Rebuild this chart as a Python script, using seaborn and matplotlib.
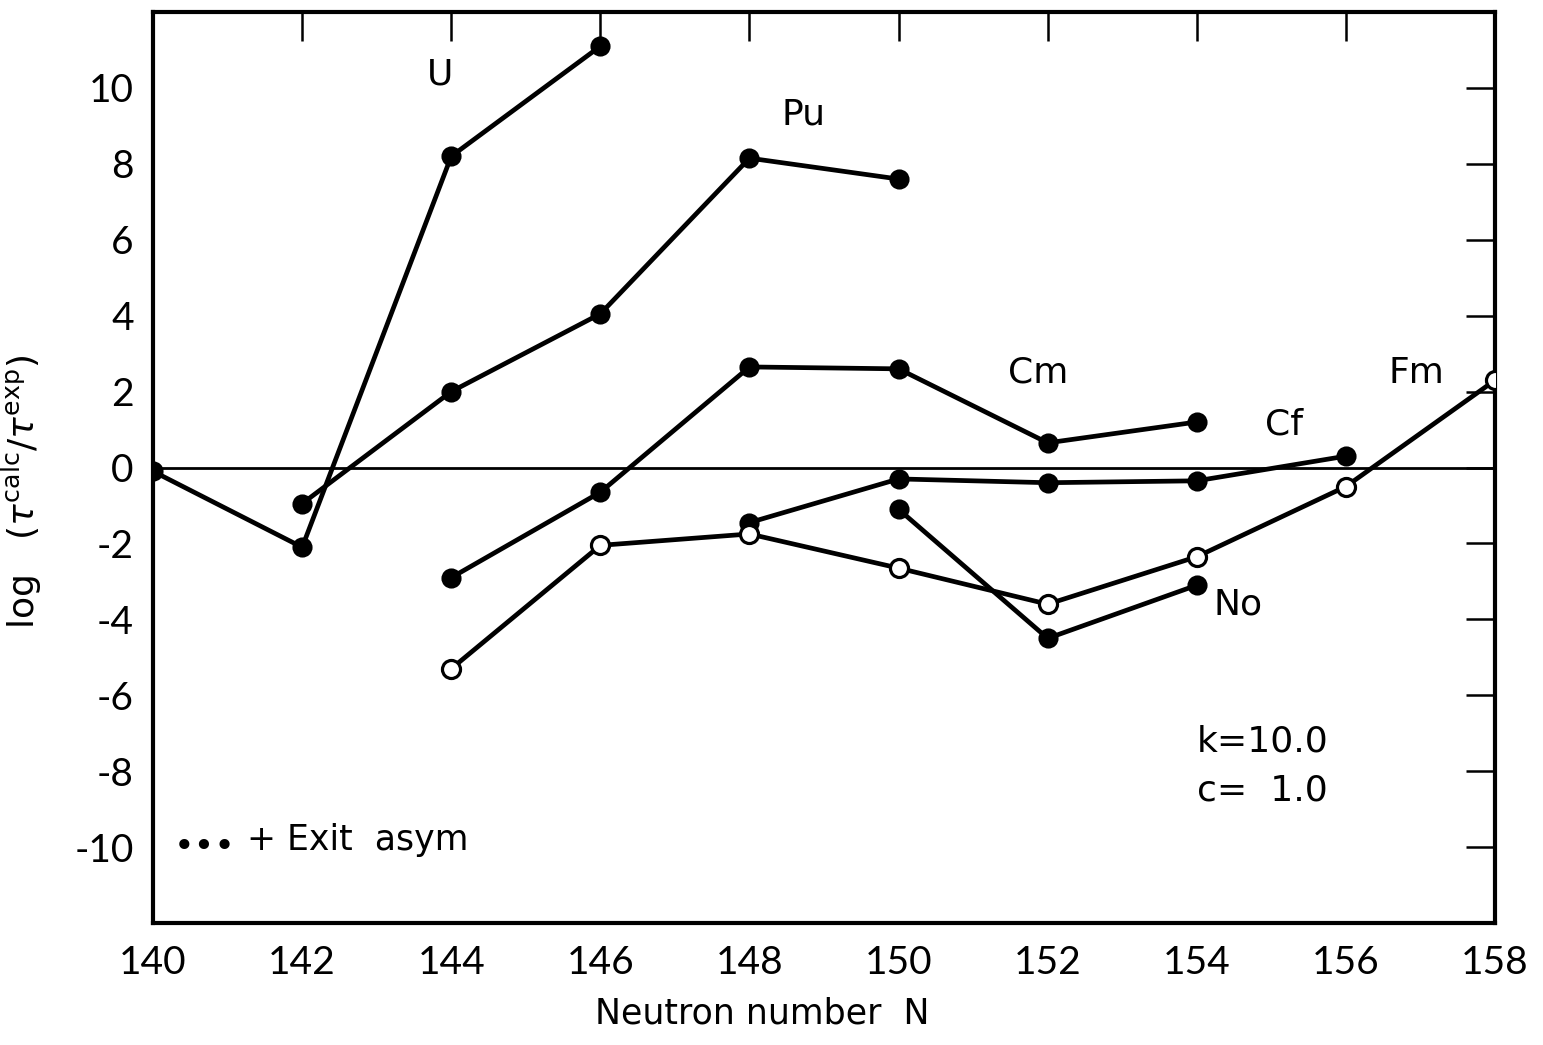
import matplotlib
matplotlib.use("Agg")
import matplotlib.pyplot as plt
import seaborn as sns
import pandas as pd

sns.set_theme(style="white")
plt.rcParams['font.family'] = ['DejaVu Sans']
plt.rcParams['mathtext.fontset'] = 'dejavusans'
plt.rcParams['text.color'] = 'black'
plt.rcParams['axes.labelcolor'] = 'black'
plt.rcParams['xtick.color'] = 'black'
plt.rcParams['ytick.color'] = 'black'

# ---- data ----
u_N = [140, 142, 144, 146]
u_val = [-0.1, -2.1, 8.2, 11.1]

pu_N = [142, 144, 146, 148, 150]
pu_val = [-0.95, 2.0, 4.05, 8.15, 7.6]

cm_N = [144, 146, 148, 150, 152, 154]
cm_val = [-2.9, -0.65, 2.65, 2.6, 0.65, 1.2]

cf_N = [148, 150, 152, 154, 156]
cf_val = [-1.45, -0.3, -0.4, -0.35, 0.3]

no_N = [150, 152, 154]
no_val = [-1.1, -4.5, -3.1]

fm_N = [144, 146, 148, 150, 152, 154, 156, 158]
fm_val = [-5.3, -2.05, -1.75, -2.65, -3.6, -2.35, -0.5, 2.3]

x_ticks = [140, 142, 144, 146, 148, 150, 152, 154, 156, 158]
y_ticks = [-10, -8, -6, -4, -2, 0, 2, 4, 6, 8, 10]

labels = ["U", "Pu", "Cm", "Cf", "No", "Fm"]
label_pos_N = [143.85, 148.72, 151.87, 155.17, 154.56, 156.94]
label_pos_v = [10.35, 9.29, 2.5, 1.13, -3.6, 2.48]

filled_series = [(u_N, u_val), (pu_N, pu_val), (cm_N, cm_val), (cf_N, cf_val), (no_N, no_val)]
open_series = [(fm_N, fm_val)]

fig = plt.figure(figsize=(15.43, 10.45), dpi=100)
ax = fig.add_axes([0.0992, 0.1167, 0.8697, 0.8718])

ax.axhline(0, color='black', lw=2.0, zorder=1)

for xs, ys in filled_series:
    df = pd.DataFrame({"N": xs, "v": ys})
    sns.lineplot(data=df, x="N", y="v", ax=ax, color='black', lw=3.4,
                 marker='o', markersize=13, markerfacecolor='black',
                 markeredgecolor='black', markeredgewidth=1.5, zorder=3,
                 estimator=None, sort=False)
for xs, ys in open_series:
    df = pd.DataFrame({"N": xs, "v": ys})
    sns.lineplot(data=df, x="N", y="v", ax=ax, color='black', lw=3.4,
                 marker='o', markersize=13, markerfacecolor='white',
                 markeredgecolor='black', markeredgewidth=2.3, zorder=3,
                 estimator=None, sort=False)

for t, xn, yv in zip(labels, label_pos_N, label_pos_v):
    ax.text(xn, yv, t, fontsize=26, ha='center', va='center')

ax.text(154.0, -7.23, "k=10.0", fontsize=26, ha='left', va='center')
ax.text(154.0, -8.52, "c=  1.0", fontsize=26, ha='left', va='center')
ax.text(140.28, -10.0, "•••", fontsize=25, ha='left', va='center')
ax.text(141.26, -9.8, "+ Exit  asym", fontsize=25, ha='left', va='center')

ax.set_xlim(140, 158)
ax.set_ylim(-12, 12)
ax.set_xticks(x_ticks)
ax.set_yticks(y_ticks)
ax.set_xticklabels([str(t) for t in x_ticks], fontfamily='Lato')
ax.set_yticklabels([str(t) for t in y_ticks], fontfamily='Lato')
ax.tick_params(axis='both', direction='in', length=21, width=1.8,
               top=True, right=True, labelsize=28, color='black',
               labelcolor='black')
ax.tick_params(axis='x', pad=16)
ax.tick_params(axis='y', pad=14)
for s in ax.spines.values():
    s.set_color('black')
    s.set_linewidth(3)

ax.set_xlabel("Neutron number  N", fontsize=25, color='black')
ax.set_ylabel(r"log   $(\tau^{\rm calc}/\tau^{\rm exp})$", fontsize=26, color='black')
ax.xaxis.set_label_coords(0.454, -0.081)
ax.yaxis.set_label_coords(-0.081, 0.473)

fig.savefig("out.png", dpi=100, facecolor='white')
